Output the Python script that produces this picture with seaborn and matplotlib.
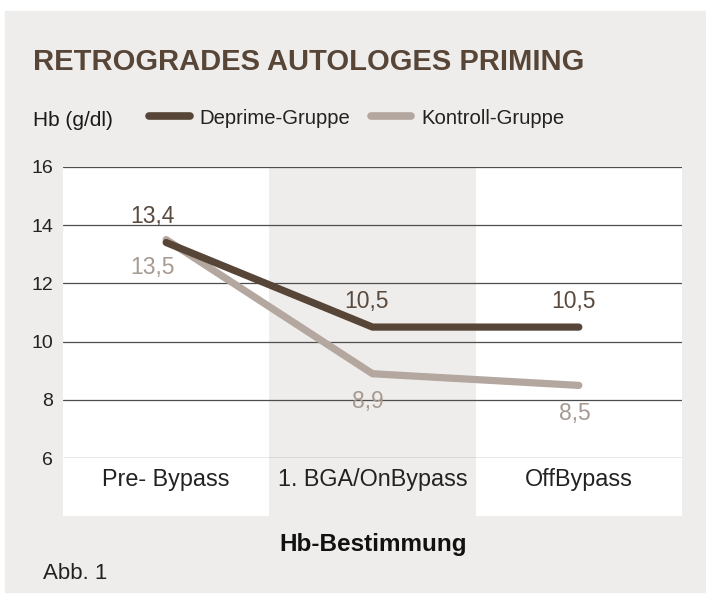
import matplotlib
matplotlib.use("Agg")
import matplotlib.pyplot as plt
import seaborn as sns
import pandas as pd
from matplotlib.patches import Rectangle
from matplotlib.lines import Line2D

# Daten
stages = ["Pre- Bypass", "1. BGA/OnBypass", "OffBypass"]
deprime = [13.4, 10.5, 10.5]
kontroll = [13.5, 8.9, 8.5]
groups = ["Deprime-Gruppe", "Kontroll-Gruppe"]

# Farben
DARK = "#574537"
LIGHT = "#b3a79f"
DARK_TXT = "#5a4a3e"
LIGHT_TXT = "#a69a92"
PANEL = "#efedeb"

df = pd.DataFrame({
    "stage": stages * 2,
    "hb": deprime + kontroll,
    "group": [groups[0]] * 3 + [groups[1]] * 3,
})

sns.set_theme(style="white")
plt.rcParams["font.family"] = ["Liberation Sans", "DejaVu Sans"]

W, H = 706, 601
fig = plt.figure(figsize=(W / 100, H / 100), dpi=100)
fig.patch.set_facecolor("white")
fig.patches.append(Rectangle((5 / W, 9 / H), 1, (592 - 11) / H,
                             transform=fig.transFigure, color=PANEL, zorder=-10))

# Achse: links 63px, rechts 682px, oben 166.7px, unten 458.3px
ax = fig.add_axes([63 / W, (H - 458.3) / H, (682 - 63) / W, (458.3 - 166.7) / H])
ax.set_facecolor("none")

# helle Spalten hinter dem Plot
for i in (0, 2):
    ax.axvspan(i - 0.5, i + 0.5, ymin=-0.198, ymax=1, color="white",
               zorder=0, clip_on=False, lw=0)

sns.lineplot(data=df, x="stage", y="hb", hue="group",
             hue_order=[groups[1], groups[0]],
             palette={groups[0]: DARK, groups[1]: LIGHT},
             linewidth=5.2, sort=False, legend=False, ax=ax,
             solid_capstyle="round", solid_joinstyle="round")

ax.set_xlim(-0.5, 2.5)
ax.set_ylim(6, 16)
ax.set_yticks([6, 8, 10, 12, 14, 16])
ax.set_yticklabels([str(v) for v in [6, 8, 10, 12, 14, 16]])
ax.set_xlabel("")
ax.set_ylabel("")
ax.set_axisbelow(True)
ax.grid(axis="y", color="#4d4d4d", linewidth=0.9)
ax.grid(axis="x", visible=False)
for s in ax.spines.values():
    s.set_visible(False)
ax.tick_params(axis="y", length=0, pad=7, labelsize=14, labelcolor="#222222")
ax.tick_params(axis="x", length=0, pad=7, labelsize=16.8, labelcolor="#222222")

# Wertebeschriftungen
for i, v in enumerate(deprime):
    dx = -10 if i == 0 else -4
    ax.annotate(f"{v:.1f}".replace(".", ","), (i, v), xytext=(dx, 14),
                textcoords="offset points", ha="center", va="baseline",
                fontsize=16.5, color=DARK_TXT)
for i, v in enumerate(kontroll):
    dx = -10 if i == 0 else -3
    ax.annotate(f"{v:.1f}".replace(".", ","), (i, v), xytext=(dx, -12),
                textcoords="offset points", ha="center", va="top",
                fontsize=16.5, color=LIGHT_TXT)

# Titel und Texte
fig.text(33 / W, (H - 70) / H, "RETROGRADES AUTOLOGES PRIMING", fontsize=21,
         fontweight="bold", color=DARK, ha="left", va="baseline")
fig.text(33 / W, (H - 126) / H, "Hb (g/dl)", fontsize=15, color="#1a1a1a",
         ha="left", va="baseline")

handles = [Line2D([], [], color=DARK, lw=5.5, solid_capstyle="round"),
           Line2D([], [], color=LIGHT, lw=5.5, solid_capstyle="round")]
fig.legend(handles, groups, loc="center left",
           bbox_to_anchor=(149 / W, (H - 118) / H), ncol=2, frameon=False,
           fontsize=14.6, handlelength=2.0, handletextpad=0.5,
           columnspacing=1.0, borderpad=0, borderaxespad=0,
           labelcolor="#222222")

fig.text(373 / W, (H - 551) / H, "Hb-Bestimmung", fontsize=17.5,
         fontweight="bold", color="#111111", ha="center", va="baseline")
fig.text(43 / W, (H - 579) / H, "Abb. 1", fontsize=16, color="#222222",
         ha="left", va="baseline")

fig.savefig("out.png", dpi=100, facecolor=fig.get_facecolor())
